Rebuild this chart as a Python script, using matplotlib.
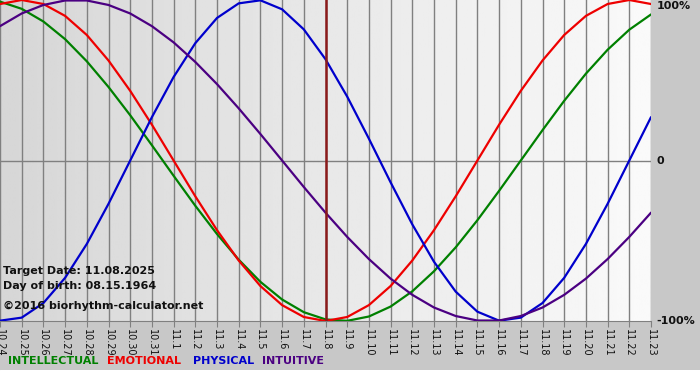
import numpy as np
import matplotlib
matplotlib.use("Agg")
import matplotlib.pyplot as plt

# dias exibidos (mm.dd)
dias = ["10.24", "10.25", "10.26", "10.27", "10.28", "10.29", "10.30", "10.31",
        "11.1", "11.2", "11.3", "11.4", "11.5", "11.6", "11.7", "11.8", "11.9",
        "11.10", "11.11", "11.12", "11.13", "11.14", "11.15", "11.16", "11.17",
        "11.18", "11.19", "11.20", "11.21", "11.22", "11.23"]
dia_alvo = "11.8"

# valores (-1 .. 1)
fisico = [-0.998, -0.979, -0.888, -0.731, -0.520, -0.270, 0.000, 0.270,
          0.520, 0.731, 0.888, 0.979, 0.998, 0.942, 0.817, 0.631, 0.398,
          0.136, -0.136, -0.398, -0.631, -0.817, -0.942, -0.998, -0.979,
          -0.888, -0.731, -0.520, -0.270, 0.000, 0.270]
emocional = [0.975, 1.000, 0.975, 0.901, 0.782, 0.623, 0.434, 0.223,
             0.000, -0.223, -0.434, -0.623, -0.782, -0.901, -0.975, -1.000,
             -0.975, -0.901, -0.782, -0.623, -0.434, -0.223, 0.000, 0.223,
             0.434, 0.623, 0.782, 0.901, 0.975, 1.000, 0.975]
intelectual = [0.990, 0.945, 0.866, 0.756, 0.618, 0.458, 0.282, 0.095,
               -0.095, -0.282, -0.458, -0.618, -0.756, -0.866, -0.945, -0.990,
               -0.999, -0.972, -0.910, -0.815, -0.690, -0.541, -0.372, -0.189,
               0.000, 0.189, 0.372, 0.541, 0.690, 0.815, 0.910]
intuitivo = [0.837, 0.916, 0.969, 0.997, 0.997, 0.969, 0.916, 0.837,
             0.736, 0.614, 0.476, 0.325, 0.165, 0.000, -0.165, -0.325,
             -0.476, -0.614, -0.736, -0.837, -0.916, -0.969, -0.997, -0.997,
             -0.969, -0.916, -0.837, -0.736, -0.614, -0.476, -0.325]

series = [
    ("INTELLECTUAL", intelectual, "#008000"),
    ("EMOTIONAL", emocional, "#ee0000"),
    ("PHYSICAL", fisico, "#0000cc"),
    ("INTUITIVE", intuitivo, "#4b0082"),
]
legenda_x = [8, 107, 193, 262]   # px

y_labels = [(1.0, "100%"), (0.0, "0"), (-1.0, "-100%")]
info = ["Target Date: 11.08.2025", "Day of birth: 08.15.1964"]
copyright_txt = "\u00a92016 biorhythm-calculator.net"

W, H = 700, 380
fig = plt.figure(figsize=(W / 100, H / 100), dpi=100, facecolor="#c8c8c8")

# faixa branca embaixo
faixa = fig.add_axes([0, 0, 1, 10 / H])
faixa.axis("off")
faixa.add_patch(plt.Rectangle((0, 0), 1, 1, color="white", transform=faixa.transAxes))

ax = fig.add_axes([0, 59 / H, 651 / W, 321 / H])
x = np.arange(len(dias))

# fundo em degrade
grad = np.linspace(0.84, 0.98, 256).reshape(1, -1)
ax.imshow(grad, cmap="gray", vmin=0, vmax=1, aspect="auto",
          extent=[0, 1, 0, 1], transform=ax.transAxes, zorder=0)

for xi in x:
    ax.axvline(xi, color="#808080", lw=1, zorder=1)
ax.axhline(0, color="#808080", lw=1, zorder=1)

for nome, vals, cor in series:
    ax.plot(x, vals, color=cor, lw=1.6, zorder=3, solid_capstyle="round")

ax.axvline(dias.index(dia_alvo), color="#8b1a1a", lw=1.8, zorder=4)

ax.set_xlim(0, len(dias) - 1)
ax.set_ylim(-1.0, 1.0)
ax.set_xticks(x)
ax.set_xticklabels(dias, rotation=270, fontsize=7, va="top", ha="center",
                   color="#111111")
ax.tick_params(axis="x", direction="out", length=4, color="#808080", pad=2)
ax.set_yticks([])
for s in ["top", "left", "right"]:
    ax.spines[s].set_visible(False)
ax.spines["bottom"].set_color("#808080")

for v, t in y_labels:
    va = "top" if v > 0.5 else "center"
    yy = 0.995 if v > 0.5 else v
    ax.text(1.008, (yy + 1) / 2, t, transform=ax.transAxes, ha="left", va=va,
            fontsize=8, fontweight="bold", color="#111111")

for i, t in enumerate(info):
    fig.text(3 / W, 1 - (271 + 15 * i) / H, t, ha="left", va="center",
             fontsize=8, fontweight="bold", color="#111111")
fig.text(3 / W, 1 - 306 / H, copyright_txt, ha="left", va="center",
         fontsize=8, fontweight="bold", color="#111111")

for (nome, vals, cor), lx in zip(series, legenda_x):
    fig.text(lx / W, 1 - 361 / H, nome, ha="left", va="center",
             fontsize=8, fontweight="bold", color=cor)

fig.savefig("out.png", dpi=100, facecolor=fig.get_facecolor())
